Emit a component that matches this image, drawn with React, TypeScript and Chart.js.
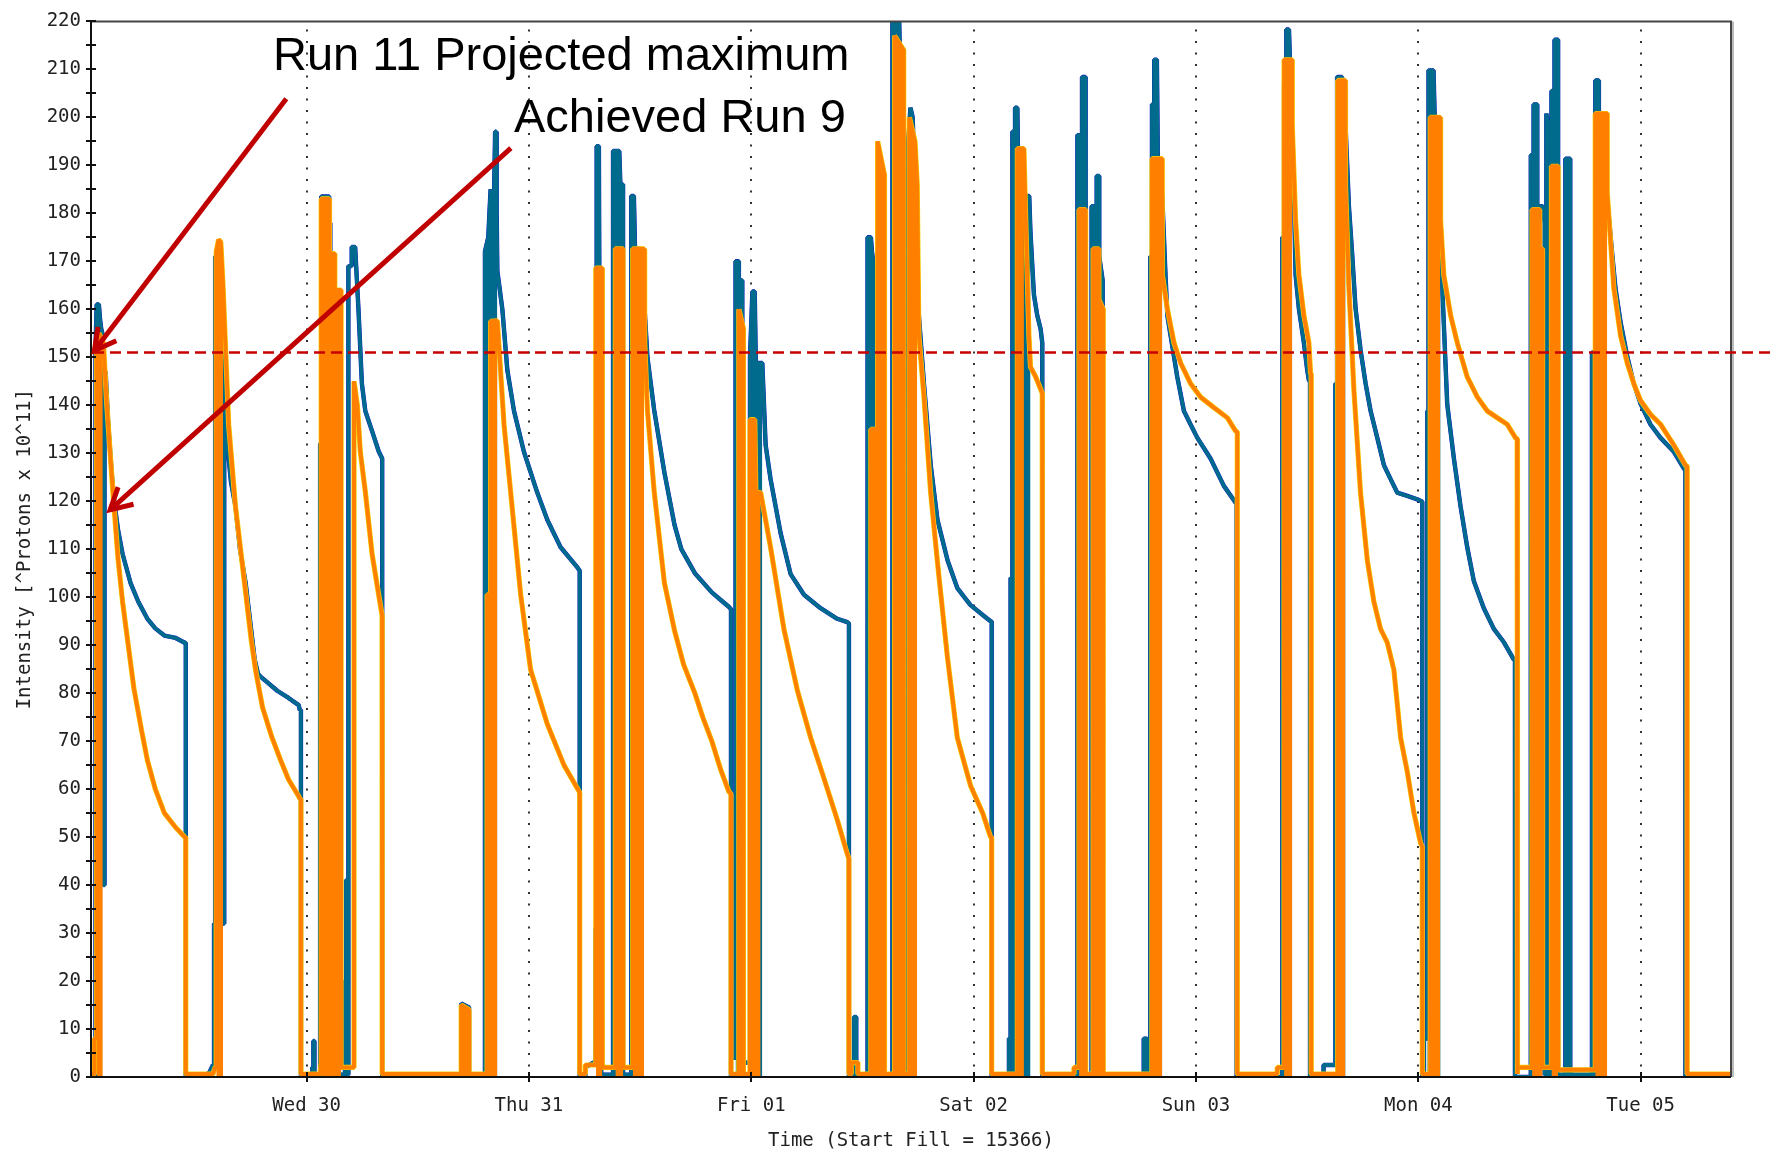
import React, { useEffect, useRef } from 'react';
import { Chart, registerables } from 'chart.js';

Chart.register(...registerables);

// time axis: hours since Tue 29 00:00
const timeRange = [0.73, 177.75];
const dayTicks = [24, 48, 72, 96, 120, 144, 168];
const dayLabels = ['Wed 30', 'Thu 31', 'Fri 01', 'Sat 02', 'Sun 03', 'Mon 04', 'Tue 05'];
const intensityRange = [0, 220];
const projectedMaximum = 151;

// Beam 1 intensity [hours, 1e11 protons]
const beam1Intensity: number[][] = [
  [0.97,0],[1.10,4],[1.22,4],[1.22,152],[1.34,161],[1.58,161],[1.70,158],[1.83,156],[1.95,155],[1.95,68],[2.07,68],[2.07,40],[2.19,40],[2.19,133],[2.31,133],[2.31,147],[2.56,137],[2.92,127],[3.17,121],[3.65,114],[4.14,109],[4.99,103],[5.85,99],[6.82,95.5],[7.67,93.5],[8.65,92],[9.87,91.5],[10.84,90.5],[10.96,90.5],[10.96,0],
  [12.91,0],[13.52,1],[13.89,2.5],[14.01,2.5],[14.01,32],[14.13,32],[14.13,171],[14.50,171],[14.62,165],[14.86,153],[14.98,146],[14.98,32],[15.11,32],[15.11,145],[15.23,136],[15.84,124],[16.32,119],[16.81,110],[17.42,103],[17.91,95],[18.40,87],[18.76,84],[19.00,83.5],[19.61,82.5],[20.83,80.5],[22.05,79],[23.15,77.5],[23.27,76.5],[23.39,76.5],[23.39,0],
  [24.61,0],[24.61,2],[24.73,2],[24.73,7.5],[24.85,7.5],[24.85,0],[25.46,0],[25.46,132],[25.58,132],[25.58,183.5],[26.44,183.5],[26.44,178],[26.56,178],[26.56,0.5],[27.17,0.5],[27.17,47],[27.29,47],[27.29,0.5],[28.14,0.5],[28.14,20],[28.26,20],[28.26,41],[28.38,41],[28.38,0.5],[28.51,0.5],[28.51,169],[28.87,169],[28.87,173],[29.24,173],[29.60,160],[29.97,144.5],[30.34,138.8],[31.07,134.6],[31.80,130.3],[32.16,128.9],[32.16,0],
  [40.69,0],[40.69,15.3],[41.54,14.5],[41.54,0],
  [43.25,0],[43.25,172],[43.61,175],[43.86,185],[44.22,182],[44.35,197],[44.47,197],[44.52,180],[44.59,168],[45.13,160],[45.67,147.3],[46.39,138.8],[47.46,130.3],[48.90,121.8],[49.99,116.1],[51.42,110.4],[53.23,106.2],[53.48,105.5],[53.48,0],
  [54.09,0],[54.09,2],[54.94,3],[55.19,3],[55.19,31],[55.31,31],[55.31,194],[55.55,194],[55.67,125],[55.80,125],[55.80,0.5],[57.08,0.5],[57.08,193],[57.75,193],[57.87,186],[58.16,186],[58.16,0.5],[59.04,0.5],[59.04,183.6],[59.33,183.6],[59.45,172.6],[60.11,172.6],[60.79,150],[61.52,139],[62.62,126],[63.72,115],[64.45,110],[65.91,105],[67.74,101],[68.96,99],[69.57,98],[69.81,97.5],[69.81,0],
  [69.81,4],[70.30,4],[70.30,170],[70.66,170],[70.66,166],[71.03,166],[71.03,3],[71.86,3],[71.86,150],[72.12,163.7],[72.37,163.7],[72.49,148.8],[73.19,148.8],[73.55,131.7],[74.08,124.6],[75.17,113.3],[76.25,104.8],[77.69,100.5],[79.48,97.7],[81.28,95.5],[82.36,94.8],[82.54,94.5],[82.54,0],
  [83.09,0],[83.09,12.5],[83.33,12.5],[83.33,0.5],[84.55,0.5],[84.55,175],[84.91,175],[85.03,172],[85.16,170],[85.16,0.5],[87.23,0.5],[87.23,220.5],[87.96,220.5],[88.08,210],[88.20,205],[88.20,0.5],[88.94,0.5],[88.94,195],[89.18,202],[89.42,200],[89.67,185],[90.09,158.7],[90.64,144.5],[91.37,127.5],[92.10,116.1],[93.20,107.6],[94.24,101.9],[95.64,98.4],[96.98,96.3],[97.83,95],[97.95,95],[97.95,0],
  [99.81,0],[99.81,8],[99.99,8],[99.99,104],[100.18,104],[100.18,197],[100.47,197],[100.47,202],[100.72,202],[100.84,185],[101.0,185],[101.0,0.5],[101.24,0.5],[101.24,183.6],[102.0,183.6],[102.14,175.8],[102.51,163],[102.87,158.7],[103.23,155.9],[103.41,153],[103.41,0],
  [107.20,0],[107.20,196.3],[107.70,196.3],[107.70,208.4],[108.09,208.4],[108.09,0.5],[108.73,0.5],[108.73,181.5],[109.28,181.5],[109.28,187.8],[109.56,187.8],[109.56,171],[109.93,166],[109.93,0],
  [114.36,0],[114.36,8],[114.71,8],[114.71,0.5],[115.07,0.5],[115.07,171],[115.25,171],[115.25,202.7],[115.49,202.7],[115.49,212],[115.78,212],[115.90,188],[116.36,183.6],[116.71,167.2],[116.91,158.7],[117.26,154.5],[117.98,145.9],[118.70,138.8],[119.42,136],[120.15,133.2],[121.57,128.9],[123.01,123.2],[124.28,119.7],[124.39,119.5],[124.39,0],
  [129.32,0],[129.32,175],[129.51,175],[129.51,207],[129.75,207],[129.75,218.3],[130.04,218.3],[130.39,195.6],[130.58,184.3],[130.75,167.2],[131.11,160.1],[131.65,153],[132.01,147.3],[132.19,145.2],[132.31,145],[132.31,0],
  [133.77,0],[133.77,2.5],[135.05,2.5],[135.05,144.5],[135.23,144.5],[135.23,208.4],[135.77,208.4],[135.90,200],[136.14,198.5],[136.51,181.4],[136.86,171.5],[137.23,160.1],[137.76,151.6],[138.31,144.5],[138.85,138.8],[139.57,133.2],[140.29,127.5],[141.01,124.6],[141.72,121.8],[142.81,121.1],[143.88,120.4],[144.43,119.9],[144.43,0],
  [144.61,0],[144.61,8],[144.97,8],[144.97,138.8],[145.10,138.8],[145.10,209.8],[145.64,209.8],[145.82,196],[146.37,196],[146.40,175.7],[146.59,164.4],[147.12,140.2],[147.84,128.9],[148.56,118.9],[149.28,110.4],[150.0,103.3],[151.07,97.7],[152.15,93.4],[153.24,90.6],[154.31,87],[154.43,87],[154.43,0],
  [156.14,0],[156.14,192.1],[156.44,192.1],[156.44,202.7],[156.84,202.7],[156.84,181.5],[157.41,181.5],[157.65,178],[157.65,0.5],[157.82,0.5],[157.82,200.8],[158.0,198.5],[158.37,198.5],[158.37,205.5],[158.70,205.5],[158.70,216.2],[159.09,216.2],[159.09,0.5],[159.87,0.5],[159.87,191.4],[160.40,191.4],[160.40,0.5],[162.74,0.5],[162.74,151],[163.10,151],[163.10,207.7],[163.49,207.7],[163.49,200],[164.39,182.9],[164.93,171.5],[165.28,164.4],[165.83,157.3],[166.55,150.2],[167.26,144.5],[167.99,140.3],[169.06,136],[170.15,133.2],[171.58,130.3],[172.67,126.8],[172.83,126.5],[172.83,0]
];

// Beam 1 injection envelopes (densely oscillating signal)
const beam1Envelope: (number | null)[][] = [
  [1.22,0],[1.22,152],[1.34,161],[1.58,161],[1.70,158],[1.95,155],[1.95,0],[1.95,null],
  [25.46,0],[25.46,132],[25.58,132],[25.58,183.5],[26.44,183.5],[26.44,0],[26.44,null],
  [43.25,0],[43.25,172],[43.61,175],[43.86,185],[44.22,182],[44.35,197],[44.47,197],[44.52,180],[44.59,168],[44.59,0],[44.59,null],
  [55.31,0],[55.31,194],[55.55,194],[55.55,0],[55.55,null],
  [57.08,0],[57.08,193],[57.75,193],[57.87,186],[58.16,186],[58.16,0],[58.16,null],
  [59.04,0],[59.04,183.6],[59.33,183.6],[59.45,172.6],[60.11,172.6],[60.11,0],[60.11,null],
  [70.30,0],[70.30,170],[70.66,170],[70.66,166],[71.03,166],[71.03,0],[71.03,null],
  [71.86,0],[71.86,150],[72.12,163.7],[72.37,163.7],[72.49,148.8],[73.19,148.8],[73.19,0],[73.19,null],
  [84.55,0],[84.55,175],[84.91,175],[85.03,172],[85.16,170],[85.16,0],[85.16,null],
  [87.23,0],[87.23,220.5],[87.96,220.5],[88.08,210],[88.20,205],[88.20,0],[88.20,null],
  [88.94,0],[88.94,195],[89.18,202],[89.42,200],[89.67,185],[89.67,0],[89.67,null],
  [99.99,0],[99.99,104],[100.18,104],[100.18,197],[100.47,197],[100.47,202],[100.72,202],[100.84,185],[101.0,185],[101.0,0],[101.0,null],
  [101.24,0],[101.24,183.6],[102.0,183.6],[102.14,175.8],[102.14,0],[102.14,null],
  [107.20,0],[107.20,196.3],[107.70,196.3],[107.70,208.4],[108.09,208.4],[108.09,0],[108.09,null],
  [108.73,0],[108.73,181.5],[109.28,181.5],[109.28,187.8],[109.56,187.8],[109.56,171],[109.93,166],[109.93,0],[109.93,null],
  [115.07,0],[115.07,171],[115.25,171],[115.25,202.7],[115.49,202.7],[115.49,212],[115.78,212],[115.90,188],[116.36,183.6],[116.36,0],[116.36,null],
  [129.32,0],[129.32,175],[129.51,175],[129.51,207],[129.75,207],[129.75,218.3],[130.04,218.3],[130.39,195.6],[130.39,0],[130.39,null],
  [135.05,0],[135.05,144.5],[135.23,144.5],[135.23,208.4],[135.77,208.4],[135.90,200],[136.14,198.5],[136.14,0],[136.14,null],
  [144.97,0],[144.97,138.8],[145.10,138.8],[145.10,209.8],[145.64,209.8],[145.82,196],[146.37,196],[146.40,175.7],[146.40,0],[146.40,null],
  [156.14,0],[156.14,192.1],[156.44,192.1],[156.44,202.7],[156.84,202.7],[156.84,181.5],[157.41,181.5],[157.41,0],[157.41,null],
  [157.82,0],[157.82,200.8],[158.0,198.5],[158.37,198.5],[158.37,205.5],[158.70,205.5],[158.70,216.2],[159.09,216.2],[159.09,0],[159.09,null],
  [159.87,0],[159.87,191.4],[160.40,191.4],[160.40,0],[160.40,null],
  [162.74,0],[162.74,151],[163.10,151],[163.10,207.7],[163.49,207.7],[163.49,200],[163.49,0]
];

// Beam 2 intensity [hours, 1e11 protons]
const beam2Intensity: number[][] = [
  [0.73,0.6],[1.10,0.6],[1.10,8],[1.34,8],[1.34,150],[1.58,155],[1.83,154],[2.07,153],[2.44,140],[2.80,130],[3.17,120],[3.65,108],[4.14,99],[4.75,90],[5.36,81],[6.21,72],[6.82,66],[7.67,60],[8.65,55],[9.87,52],[10.84,50],[10.96,50],[10.96,0.6],
  [13.89,0.6],[14.13,2],[14.25,2],[14.25,172],[14.50,174.5],[14.74,174],[14.98,165],[15.23,153],[15.59,136],[16.32,119],[17.42,101],[18.03,91],[18.52,84.5],[19.25,77],[20.22,71],[21.20,66],[22.05,62],[23.15,58.5],[23.27,58],[23.39,58],[23.39,0.6],
  [25.46,0.6],[25.58,3],[25.58,183],[26.47,183],[26.47,171.6],[27.05,171.6],[27.05,164],[27.72,164],[27.72,2],[29.12,2],[29.12,145],[29.48,140],[29.80,130.3],[30.35,121.8],[31.07,109],[31.78,100.5],[32.15,96.2],[32.16,96],[32.16,0.6],
  [40.69,0.6],[40.69,15],[41.54,14],[41.54,0.6],
  [43.49,0.6],[43.49,100.5],[43.86,100.5],[43.86,157.5],[44.59,157.6],[45.31,136],[46.03,121.8],[47.11,100.5],[48.18,84.9],[49.99,73.5],[51.78,65],[53.48,59.3],[53.48,0.6],
  [54.09,0.6],[54.09,2.5],[55.22,2.5],[55.22,168.6],[55.92,168.6],[55.92,2],[57.33,2],[57.33,172.6],[58.16,172.6],[58.16,2],[59.21,2],[59.21,172.6],[60.43,172.6],[60.49,153],[60.79,139],[61.52,122],[62.62,103],[63.72,93],[64.69,86],[65.91,80],[66.76,75],[67.74,70],[68.71,64],[69.57,59.5],[69.81,59],[69.81,0.6],
  [70.66,0.6],[70.66,160],[71.15,156],[71.15,0.6],[71.86,0.6],[71.86,137],[72.37,137],[72.49,121.8],[73.01,121.8],[74.08,110.4],[75.52,93.4],[76.97,80.6],[78.41,70.7],[79.85,62.2],[81.28,53.6],[82.36,46.5],[82.54,45.5],[82.54,0.6],
  [82.79,0.6],[82.79,3],[83.51,3],[83.51,0.6],[84.91,0.6],[84.91,135],[85.52,135],[85.52,0.6],[85.64,0.6],[85.64,195],[86.38,188],[86.38,0.6],[87.47,0.6],[87.47,217],[88.45,214],[88.45,0.6],[89.06,0.6],[89.06,200],[89.67,195],[89.91,186],[90.09,154.5],[90.64,141.7],[91.36,121.8],[92.08,107.6],[93.16,87.7],[94.24,70.7],[95.67,60.7],[96.98,55],[97.83,50],[97.95,50],[97.95,0.6],
  [100.72,0.6],[100.72,193.5],[101.43,193.5],[101.60,180],[101.97,154.5],[102.14,148],[102.68,146],[103.41,142.5],[103.41,0.6],
  [106.83,0.6],[106.83,2],[107.38,2],[107.38,180.8],[108.09,180.8],[108.09,0.6],[108.90,0.6],[108.90,172.6],[109.52,172.6],[109.52,162],[109.99,160],[109.99,0.6],
  [115.25,0.6],[115.25,191.4],[116.36,191.4],[116.36,167.2],[116.91,160.1],[117.63,153],[118.35,148.8],[119.42,144.5],[120.50,141.7],[121.94,139.5],[123.38,137.4],[124.28,134.6],[124.46,134.5],[124.46,0.6],
  [128.77,0.6],[128.77,2],[129.51,2],[129.51,212],[130.39,212],[130.39,198.5],[130.75,178.6],[131.11,167.2],[131.65,158.7],[132.19,153],[132.37,146.6],[132.44,146.5],[132.44,0.6],
  [135.30,0.6],[135.30,207.7],[136.13,207.7],[136.14,185.7],[136.51,164.4],[137.05,143.1],[137.76,121.8],[138.50,107.6],[139.20,99.1],[139.92,93.4],[140.64,90.6],[141.36,84.9],[142.09,70.7],[142.81,63.6],[143.52,55.1],[144.25,48.7],[144.43,48],[144.43,0.6],
  [145.29,0.6],[145.29,200],[146.37,200],[146.40,178.6],[146.75,167.2],[147.49,158.7],[148.21,153],[149.28,145.9],[150.37,141.7],[151.44,138.8],[152.52,137.4],[153.60,136],[154.49,133.2],[154.67,133],[154.67,0.6],
  [154.72,0.6],[154.72,2],[156.28,2],[156.28,180.8],[157.1,180.8],[157.1,172.6],[157.41,172.6],[157.41,2],[158.37,2],[158.37,189.8],[159.09,189.8],[159.09,1.5],[163.10,1.5],[163.10,200.8],[164.39,200.8],[164.39,184.3],[165.10,164.4],[165.83,154.5],[166.55,148.8],[167.26,144.5],[167.99,141],[169.06,138.1],[170.15,136],[171.58,131.7],[172.84,127.5],[173.02,127.3],[173.02,0.6],[177.75,0.6]
];

// Beam 2 injection envelopes
const beam2Envelope: (number | null)[][] = [
  [1.34,0],[1.34,150],[1.58,155],[1.83,154],[2.0,153],[2.0,0],[2.0,null],
  [14.25,0],[14.25,172],[14.50,174.5],[14.74,174],[14.98,165],[14.98,0],[14.98,null],
  [25.58,0],[25.58,183],[26.47,183],[26.47,171.6],[27.05,171.6],[27.05,164],[27.72,164],[27.72,0],[27.72,null],
  [40.69,0],[40.69,15],[41.54,14],[41.54,0],[41.54,null],
  [43.49,0],[43.49,100.5],[43.86,100.5],[43.86,157.5],[44.59,157.6],[44.59,0],[44.59,null],
  [55.22,0],[55.22,168.6],[55.92,168.6],[55.92,0],[55.92,null],
  [57.33,0],[57.33,172.6],[58.16,172.6],[58.16,0],[58.16,null],
  [59.21,0],[59.21,172.6],[60.43,172.6],[60.43,0],[60.43,null],
  [70.66,0],[70.66,160],[71.15,156],[71.15,0],[71.15,null],
  [71.86,0],[71.86,137],[72.37,137],[72.49,121.8],[73.01,121.8],[73.01,0],[73.01,null],
  [84.91,0],[84.91,135],[85.52,135],[85.52,0],[85.52,null],
  [85.64,0],[85.64,195],[86.38,188],[86.38,0],[86.38,null],
  [87.47,0],[87.47,217],[88.45,214],[88.45,0],[88.45,null],
  [89.06,0],[89.06,200],[89.67,195],[89.91,186],[89.91,0],[89.91,null],
  [100.72,0],[100.72,193.5],[101.43,193.5],[101.43,0],[101.43,null],
  [107.38,0],[107.38,180.8],[108.09,180.8],[108.09,0],[108.09,null],
  [108.90,0],[108.90,172.6],[109.52,172.6],[109.52,162],[109.99,160],[109.99,0],[109.99,null],
  [115.25,0],[115.25,191.4],[116.36,191.4],[116.36,0],[116.36,null],
  [129.51,0],[129.51,212],[130.39,212],[130.39,0],[130.39,null],
  [135.30,0],[135.30,207.7],[136.13,207.7],[136.13,0],[136.13,null],
  [145.29,0],[145.29,200],[146.37,200],[146.37,0],[146.37,null],
  [156.28,0],[156.28,180.8],[157.1,180.8],[157.1,172.6],[157.41,172.6],[157.41,0],[157.41,null],
  [158.37,0],[158.37,189.8],[159.09,189.8],[159.09,0],[159.09,null],
  [163.10,0],[163.10,200.8],[164.39,200.8],[164.39,0]
];

const TEAL = '#006B8C';
const BLUE = '#1414C8';
const ORANGE = '#FF8000';
const YELLOW = '#F2D000';
const RED = '#C80000';
const MONO = '"DejaVu Sans Mono", monospace';

function drawArrow(ctx: CanvasRenderingContext2D, x0: number, y0: number, x1: number, y1: number) {
  ctx.beginPath();
  ctx.moveTo(x0, y0);
  ctx.lineTo(x1, y1);
  ctx.stroke();
  const ang = Math.atan2(y1 - y0, x1 - x0);
  const L = 24;
  const sp = 0.5;
  ctx.beginPath();
  ctx.moveTo(x1 - L * Math.cos(ang - sp), y1 - L * Math.sin(ang - sp));
  ctx.lineTo(x1, y1);
  ctx.lineTo(x1 - L * Math.cos(ang + sp), y1 - L * Math.sin(ang + sp));
  ctx.stroke();
}

const overlayPlugin = {
  id: 'lhcOverlay',
  beforeDatasetsDraw(chart: any) {
    const { ctx, chartArea: a, scales } = chart;
    const x = scales.x;
    ctx.save();
    ctx.strokeStyle = '#333';
    ctx.lineWidth = 2;
    ctx.setLineDash([2, 9.5]);
    for (const t of dayTicks) {
      const px = Math.round(x.getPixelForValue(t));
      ctx.beginPath();
      ctx.moveTo(px, a.top + 8);
      ctx.lineTo(px, a.bottom);
      ctx.stroke();
    }
    ctx.restore();
  },
  afterDraw(chart: any) {
    const { ctx, chartArea: a, scales, width } = chart;
    const x = scales.x;
    const y = scales.y;
    ctx.save();
    // frame
    ctx.lineWidth = 2;
    ctx.strokeStyle = '#bbb';
    ctx.beginPath();
    ctx.moveTo(a.right + 2, a.top);
    ctx.lineTo(a.right + 2, a.bottom);
    ctx.stroke();
    ctx.strokeStyle = '#444';
    ctx.beginPath();
    ctx.moveTo(a.left, a.top);
    ctx.lineTo(a.right, a.top);
    ctx.lineTo(a.right, a.bottom);
    ctx.stroke();
    ctx.strokeStyle = '#111';
    ctx.beginPath();
    ctx.moveTo(a.left, a.top);
    ctx.lineTo(a.left, a.bottom);
    ctx.lineTo(a.right, a.bottom);
    ctx.stroke();
    // y tick marks every 5
    for (let v = intensityRange[0]; v <= intensityRange[1]; v += 5) {
      const py = Math.round(y.getPixelForValue(v));
      ctx.beginPath();
      ctx.moveTo(a.left - 5, py);
      ctx.lineTo(a.left + 5, py);
      ctx.stroke();
    }
    for (const t of dayTicks) {
      const px = Math.round(x.getPixelForValue(t));
      ctx.beginPath();
      ctx.moveTo(px, a.bottom - 5);
      ctx.lineTo(px, a.bottom + 5);
      ctx.stroke();
    }
    // projected maximum
    const ym = y.getPixelForValue(projectedMaximum);
    ctx.strokeStyle = RED;
    ctx.lineWidth = 2.5;
    ctx.setLineDash([11, 6]);
    ctx.beginPath();
    ctx.moveTo(a.left + 2, ym);
    ctx.lineTo(width, ym);
    ctx.stroke();
    ctx.setLineDash([]);
    // arrows
    ctx.strokeStyle = '#C00000';
    ctx.lineWidth = 5;
    drawArrow(ctx, x.getPixelForValue(21.81), y.getPixelForValue(203.9), x.getPixelForValue(1.10), y.getPixelForValue(151.4));
    drawArrow(ctx, x.getPixelForValue(46.05), y.getPixelForValue(193.6), x.getPixelForValue(2.80), y.getPixelForValue(118.2));
    // annotation text
    ctx.fillStyle = '#000';
    ctx.font = '47px "Liberation Sans", Arial, sans-serif';
    ctx.textAlign = 'left';
    ctx.textBaseline = 'alphabetic';
    ctx.fillText('Run 11 Projected maximum', 273, 70);
    ctx.fillText('Achieved Run 9', 514, 132);
    // axis titles
    ctx.fillStyle = '#222';
    ctx.font = '19px ' + MONO;
    ctx.textAlign = 'center';
    ctx.textBaseline = 'middle';
    ctx.fillText('Time (Start Fill = 15366)', (a.left + a.right) / 2, 1141);
    ctx.translate(25, (a.top + a.bottom) / 2);
    ctx.rotate(-Math.PI / 2);
    ctx.fillText('Intensity [^Protons x 10^11]', 0, 0);
    ctx.restore();
  },
};

export default function App() {
  const ref = useRef<HTMLCanvasElement | null>(null);
  useEffect(() => {
    if (!ref.current) return;
    const line = (data: any, color: string, width: number, order: number) => ({
      data,
      borderColor: color,
      backgroundColor: color,
      borderWidth: width,
      pointRadius: 0,
      tension: 0,
      fill: false,
      borderJoinStyle: 'bevel',
      order,
    });
    const envelope = (data: any, color: string, order: number) => ({
      data,
      borderColor: 'rgba(0,0,0,0)',
      backgroundColor: color,
      borderWidth: 0,
      pointRadius: 0,
      tension: 0,
      fill: 'origin',
      spanGaps: false,
      order,
    });
    const chart = new Chart(ref.current, {
      type: 'line',
      data: {
        datasets: [
          line(beam2Intensity, ORANGE, 4, 1),
          envelope(beam2Envelope, ORANGE, 2),
          line(beam2Intensity, YELLOW, 5.2, 3),
          line(beam1Intensity, TEAL, 3.8, 4),
          envelope(beam1Envelope, TEAL, 5),
          line(beam1Intensity, BLUE, 4.4, 6),
        ] as any,
      },
      options: {
        responsive: false,
        animation: false,
        devicePixelRatio: 1,
        layout: { padding: { left: 0, right: 39, top: 16, bottom: 0 } },
        plugins: { legend: { display: false }, tooltip: { enabled: false } },
        elements: { point: { radius: 0 } },
        scales: {
          x: {
            type: 'linear',
            min: timeRange[0],
            max: timeRange[1],
            grid: { display: false, drawTicks: false },
            border: { display: false },
            afterFit: (s: any) => { s.height = 76; },
            afterBuildTicks: (s: any) => { s.ticks = dayTicks.map((v) => ({ value: v })); },
            ticks: {
              autoSkip: false,
              maxRotation: 0,
              padding: 18,
              color: '#222',
              font: { family: MONO, size: 19 },
              callback: (v: any) => dayLabels[dayTicks.indexOf(Number(v))] ?? '',
            },
          },
          y: {
            type: 'linear',
            min: intensityRange[0],
            max: intensityRange[1],
            grid: { display: false, drawTicks: false },
            border: { display: false },
            afterFit: (s: any) => { s.width = 91; },
            ticks: {
              stepSize: 10,
              autoSkip: false,
              padding: 10,
              color: '#222',
              font: { family: MONO, size: 19 },
            },
          },
        },
      } as any,
      plugins: [overlayPlugin],
    });
    return () => chart.destroy();
  }, []);
  return (
    <div style={{ position: 'absolute', left: 0, top: 0, width: 1770, height: 1153, background: '#fff' }}>
      <canvas ref={ref} width={1770} height={1153} style={{ display: 'block' }} />
    </div>
  );
}
